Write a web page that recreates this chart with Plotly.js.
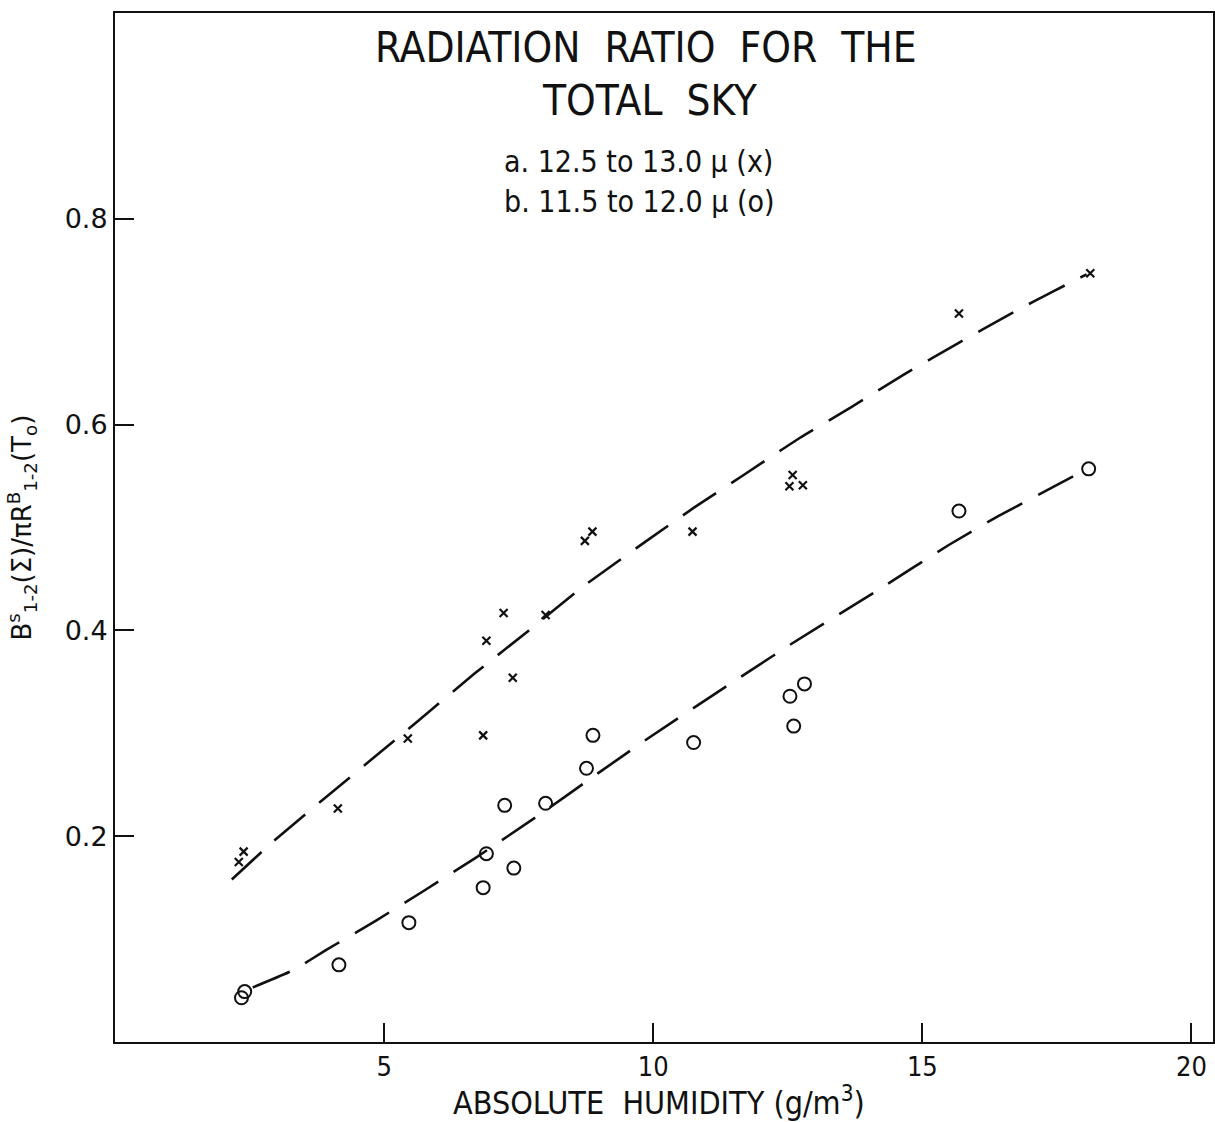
<!DOCTYPE html>
<html>
<head>
<meta charset="utf-8">
<script src="https://cdn.plot.ly/plotly-3.0.1.min.js"></script>
<style>
  html, body { margin: 0; padding: 0; background: #fff; }
  #chart { width: 1215px; height: 1122px; }
</style>
</head>
<body>
<div id="chart"></div>
<script>
// Band a: 12.5 to 13.0 micron (x marks)
const bandAHumidity = [2.30, 2.39, 4.14, 5.44, 6.84, 6.90, 7.22, 7.39, 8.00, 8.73, 8.87, 10.73, 12.53, 12.59, 12.78, 15.68, 18.12];
const bandARatio    = [0.175, 0.185, 0.227, 0.295, 0.298, 0.390, 0.417, 0.354, 0.415, 0.487, 0.496, 0.496, 0.540, 0.551, 0.541, 0.708, 0.747];

// Band b: 11.5 to 12.0 micron (open circles)
const bandBHumidity = [2.35, 2.41, 4.16, 5.46, 6.84, 6.90, 7.24, 7.41, 8.00, 8.76, 8.88, 10.75, 12.54, 12.61, 12.81, 15.68, 18.09];
const bandBRatio    = [0.043, 0.049, 0.075, 0.116, 0.150, 0.183, 0.230, 0.169, 0.232, 0.266, 0.298, 0.291, 0.336, 0.307, 0.348, 0.516, 0.557];

// Hand-drawn fitted curves (dashed)
const curveAHumidity = [2.17, 2.92, 3.85, 4.73, 5.63, 6.68, 7.69, 8.68, 9.85, 10.75, 11.68, 12.72, 13.68, 14.67, 15.66, 16.72, 17.45, 18.05];
const curveARatio    = [0.158, 0.194, 0.235, 0.273, 0.312, 0.358, 0.400, 0.442, 0.486, 0.519, 0.551, 0.587, 0.617, 0.649, 0.679, 0.710, 0.730, 0.746];
const curveBHumidity = [2.56, 3.32, 3.91, 4.85, 5.74, 6.70, 7.89, 8.97, 9.90, 11.28, 12.60, 14.20, 15.49, 16.41, 17.31, 17.88];
const curveBRatio    = [0.053, 0.070, 0.089, 0.118, 0.147, 0.179, 0.221, 0.261, 0.295, 0.343, 0.388, 0.440, 0.483, 0.511, 0.536, 0.552];

// Axis ticks
const xTickValues = [5, 10, 15, 20];
const xTickLabels = ['5', '10', '15', '20'];
const yTickValues = [0.2, 0.4, 0.6, 0.8];
const yTickLabels = ['0.2', '0.4', '0.6', '0.8'];

const NARROW = '"DejaVu Sans Condensed", "Liberation Sans Narrow", sans-serif';
const ROUND = '"DejaVu Sans", "Liberation Sans", sans-serif';
const INK = '#111';
const GAP = '\u00a0\u00a0';

const dashed = { color: INK, width: 2.6, dash: '40px,18px', shape: 'spline', smoothing: 0.4 };

const traces = [
  { x: curveAHumidity, y: curveARatio, mode: 'lines', line: dashed, hoverinfo: 'skip' },
  { x: curveBHumidity, y: curveBRatio, mode: 'lines', line: dashed, hoverinfo: 'skip' },
  { x: bandAHumidity, y: bandARatio, mode: 'markers', name: 'a. 12.5 to 13.0 μ',
    marker: { symbol: 'x-thin-open', size: 8, color: INK, line: { color: INK, width: 2.2 } } },
  { x: bandBHumidity, y: bandBRatio, mode: 'markers', name: 'b. 11.5 to 12.0 μ',
    marker: { symbol: 'circle-open', size: 13, color: INK, line: { color: INK, width: 2 } } }
];

const layout = {
  width: 1215, height: 1122,
  margin: { l: 115, r: 2, t: 13, b: 80 },
  paper_bgcolor: '#fff', plot_bgcolor: '#fff',
  showlegend: false,
  xaxis: {
    range: [0, 20.4], showgrid: false, zeroline: false,
    showline: true, mirror: true, linecolor: INK, linewidth: 2,
    ticks: 'inside', ticklen: 19, tickwidth: 2, tickcolor: INK,
    tickvals: xTickValues, ticktext: xTickLabels,
    tickfont: { family: NARROW, size: 27, color: INK }
  },
  yaxis: {
    range: [0, 1.0], showgrid: false, zeroline: false,
    showline: true, mirror: true, linecolor: INK, linewidth: 2,
    ticks: 'inside', ticklen: 19, tickwidth: 2, tickcolor: INK,
    tickvals: yTickValues, ticktext: yTickLabels,
    tickfont: { family: ROUND, size: 27, color: INK }
  },
  annotations: [
    { xref: 'paper', yref: 'paper', x: 0.4836, y: 0.966, xanchor: 'center', yanchor: 'middle',
      text: 'RADIATION' + GAP + 'RATIO' + GAP + 'FOR' + GAP + 'THE', showarrow: false,
      font: { family: NARROW, size: 42, color: INK } },
    { xref: 'paper', yref: 'paper', x: 0.487, y: 0.915, xanchor: 'center', yanchor: 'middle',
      text: 'TOTAL' + GAP + 'SKY', showarrow: false, font: { family: NARROW, size: 42, color: INK } },
    { xref: 'paper', yref: 'paper', x: 0.477, y: 0.856, xanchor: 'center', yanchor: 'middle',
      text: 'a. 12.5 to 13.0 μ (x)', showarrow: false, font: { family: NARROW, size: 30, color: INK } },
    { xref: 'paper', yref: 'paper', x: 0.478, y: 0.817, xanchor: 'center', yanchor: 'middle',
      text: 'b. 11.5 to 12.0 μ (o)', showarrow: false, font: { family: NARROW, size: 30, color: INK } },
    { xref: 'paper', yref: 'paper', x: 0.4955, y: -0.0575, xanchor: 'center', yanchor: 'middle',
      text: 'ABSOLUTE' + '\u00a0' + ' HUMIDITY (g/m<sup>3</sup>)', showarrow: false,
      font: { family: NARROW, size: 32, color: INK } },
    { xref: 'paper', yref: 'paper', x: -0.0847, y: 0.5, xanchor: 'center', yanchor: 'middle', textangle: -90,
      text: 'B<sup>s</sup><sub>1-2</sub>(Σ)/πR<sup>B</sup><sub>1-2</sub>(T<sub>o</sub>)', showarrow: false,
      font: { family: ROUND, size: 26, color: INK } }
  ]
};

Plotly.newPlot('chart', traces, layout, { staticPlot: true, displayModeBar: false });
</script>
</body>
</html>
